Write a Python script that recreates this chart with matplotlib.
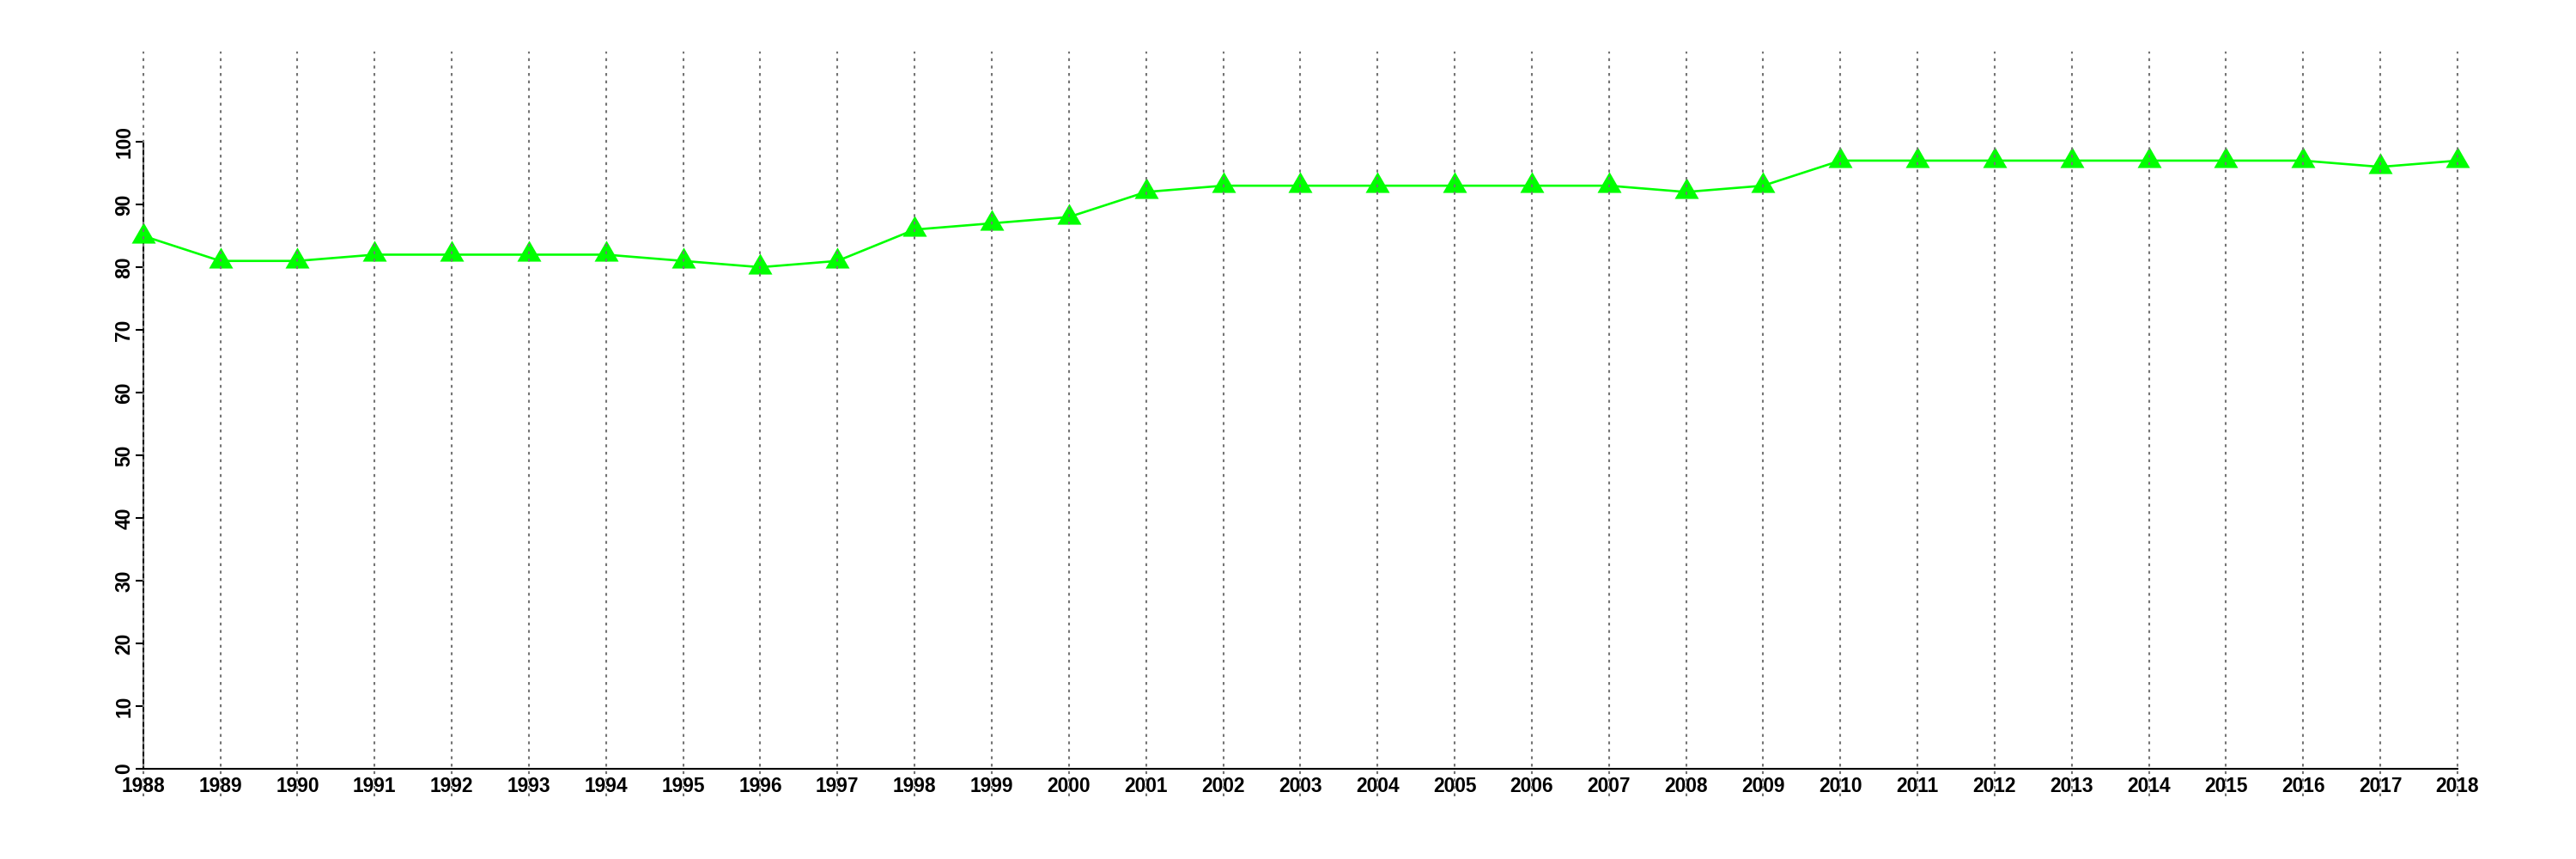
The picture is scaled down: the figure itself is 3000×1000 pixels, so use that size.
import matplotlib
matplotlib.use("Agg")
import matplotlib.pyplot as plt

years = list(range(1988, 2019))
values = [85, 81, 81, 82, 82, 82, 82, 81, 80, 81, 86, 87, 88, 92, 93, 93, 93, 93, 93, 93,
          92, 93, 97, 97, 97, 97, 97, 97, 97, 96, 97]
y_ticks = [0, 10, 20, 30, 40, 50, 60, 70, 80, 90, 100]

plt.rcParams['font.family'] = ['Liberation Sans', 'DejaVu Sans']

fig = plt.figure(figsize=(30, 10), dpi=100)
ax = fig.add_axes([166.7 / 3000, 0.073, 2695.3 / 3000, 0.867])
ax.set_xlim(1988, 2018)
ax.set_ylim(-4.4, 114.4)

tri = [(-0.5, -0.2887), (0.5, -0.2887), (0.0, 0.5774)]
ax.plot(years, values, color='#00ff00', lw=1.9, marker=tri, markersize=23.3,
        markeredgewidth=0, clip_on=False, zorder=3)

for yr in years:
    ax.axvline(yr, color='#747474', lw=1.5, ls=(0, (1.6, 2.55)), zorder=4, clip_on=False)

for s in ['top', 'right']:
    ax.spines[s].set_visible(False)
ax.spines['left'].set_bounds(0, 100)
ax.spines['bottom'].set_position(('data', 0))
ax.spines['bottom'].set_bounds(1988, 2018)
ax.spines['left'].set_linewidth(1.5)
ax.spines['bottom'].set_linewidth(1.5)

ax.set_xticks(years)
ax.set_xticklabels([str(y) for y in years], fontsize=16.4, fontweight='bold')
ax.set_yticks(y_ticks)
ax.set_yticklabels([str(v) for v in y_ticks], fontsize=16.4, fontweight='bold',
                   rotation=90, va='center')
ax.tick_params(axis='x', length=0, pad=6.5)
ax.tick_params(axis='y', length=6.5, width=1.5, pad=1)

fig.savefig('out.png', dpi=100)
